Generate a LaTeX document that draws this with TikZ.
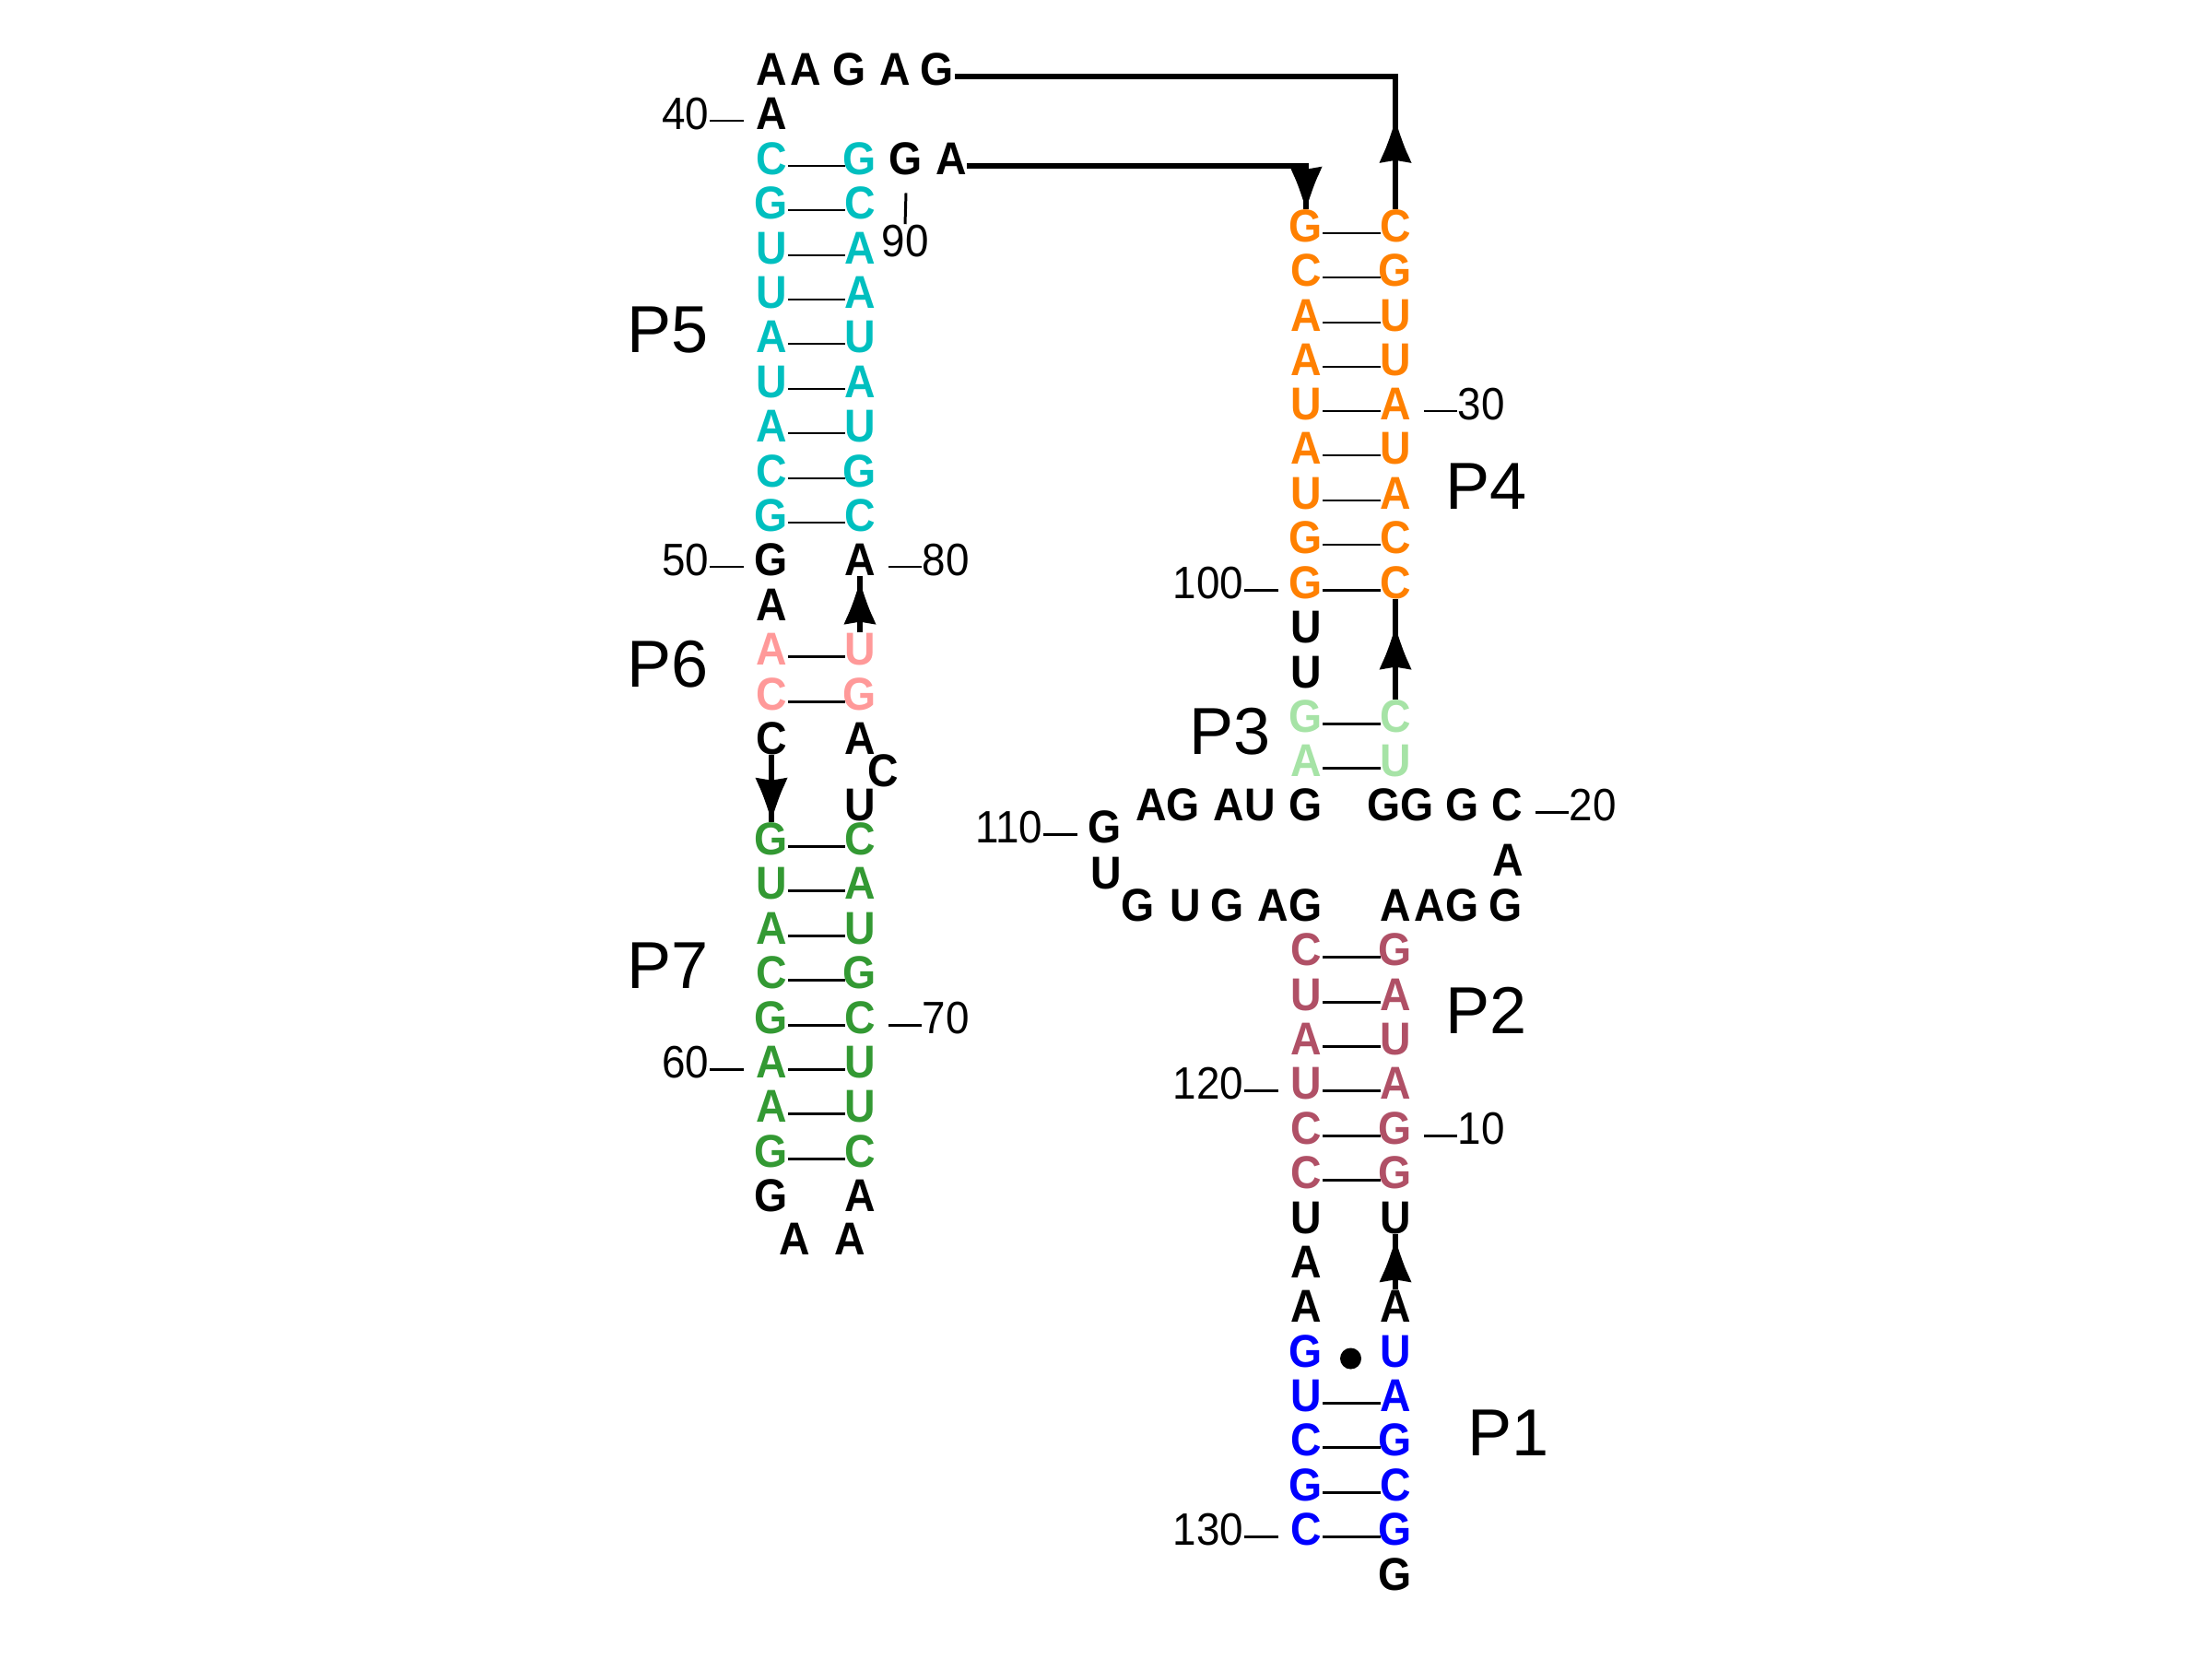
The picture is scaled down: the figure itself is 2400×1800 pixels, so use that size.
\documentclass[tikz,border=0pt]{standalone}
\usepackage{fontspec}
\setmainfont{Liberation Sans}[FakeStretch=0.93]
\newfontfamily\labfam{Liberation Sans}
\usetikzlibrary{calc}
\definecolor{cP5}{RGB}{0,191,191}
\definecolor{cP6}{RGB}{255,153,153}
\definecolor{cP7}{RGB}{51,153,51}
\definecolor{cP4}{RGB}{255,128,0}
\definecolor{cP3}{RGB}{166,227,166}
\definecolor{cP2}{RGB}{176,80,102}
\definecolor{cP1}{RGB}{0,0,255}
\newcommand\nucf{\fontsize{14.2}{16}\selectfont\bfseries}
\newcommand\numf{\fontsize{14}{16}\selectfont}
\newcommand\labf{\labfam\fontsize{20.5}{24}\selectfont}
% left stack pair
\newcommand\lp[5]{%
  \node[nt,text=#5] (a#1) at (837,#2) {#3};
  \node[nt,text=#5] (b#1) at (933,#2) {#4};
  \draw[bond] ($(a#1.mid)+(18,0)$) -- ($(b#1.mid)+(-16,0)$);}
% right stack pair
\newcommand\rp[5]{%
  \node[nt,text=#5] (c#1) at (1417,#2) {#3};
  \node[nt,text=#5] (d#1) at (1514,#2) {#4};
  \draw[bond] ($(c#1.mid)+(18,0)$) -- ($(d#1.mid)+(-16,0)$);}
% numbering to the left / right of a node
\newcommand\lnum[2]{%
  \node[numt,anchor=mid east] (n#2) at ($(#1.mid)+(-67,0)$) {#2};
  \draw[bond] (n#2.mid east) -- ($(#1.mid)+(-30,0)$);}
\newcommand\rnum[2]{%
  \node[numt,anchor=mid west] (n#2) at ($(#1.mid)+(67,0)$) {#2};
  \draw[bond] ($(#1.mid)+(31,0)$) -- (n#2.mid west);}
\tikzset{
  nt/.style={font=\nucf,inner sep=0pt,anchor=mid},
  numt/.style={font=\numf,inner sep=0pt},
  lab/.style={font=\labf,inner sep=0pt,anchor=mid west},
  bond/.style={line width=0.85pt},
  conn/.style={line width=1.7pt},
  ahd/.pic={\fill (24,0) .. controls (12,4) and (-4,9) .. (-14,14) -- (-22,17.5) -- (-19,0) -- (-22,-17.5) -- (-14,-14) .. controls (-4,-9) and (12,-4) .. (24,0) -- cycle;}
}
\begin{document}
\begin{tikzpicture}[x=0.01cm,y=-0.01cm]
\useasboundingbox (0,0) rectangle (2400,1800);
% ---------------- left stack (P5, P6, P7)
\node[nt] (t1) at (837,83) {A};
\node[nt] (t2) at (874,83) {A};
\node[nt] (t3) at (922,83) {G};
\node[nt] (t4) at (971,83) {A};
\node[nt] (t5) at (1017,83) {G};
\node[nt] (a1) at (837,131) {A};
\lnum{a1}{40}
\lp{2}{180}{C}{G}{cP5}
\node[nt] (x1) at (983,180) {G};
\node[nt] (x2) at (1032,180) {A};
\lp{3}{228}{G}{C}{cP5}
\node[numt,anchor=mid] (n90) at (982,269) {90};
\draw[bond] ($(x1.south)+(0,19)$) -- (n90.north);
\lp{4}{277}{U}{A}{cP5}
\lp{5}{325}{U}{A}{cP5}
\lp{6}{373}{A}{U}{cP5}
\lp{7}{422}{U}{A}{cP5}
\lp{8}{470}{A}{U}{cP5}
\lp{9}{519}{C}{G}{cP5}
\lp{10}{567}{G}{C}{cP5}
\node[nt] (a11) at (837,615) {G};
\node[nt] (b11) at (933,615) {A};
\lnum{a11}{50}
\rnum{b11}{80}
\node[nt] (a12) at (837,664) {A};
\lp{13}{712}{A}{U}{cP6}
\lp{14}{761}{C}{G}{cP6}
\node[nt] (a15) at (837,809) {C};
\node[nt] (b15) at (933,809) {A};
\node[nt] (y1) at (958,844) {C};
\node[nt] (y2) at (933,881) {U};
\lp{16}{918}{G}{C}{cP7}
\lp{17}{966}{U}{A}{cP7}
\lp{18}{1015}{A}{U}{cP7}
\lp{19}{1063}{C}{G}{cP7}
\lp{20}{1112}{G}{C}{cP7}
\lp{21}{1160}{A}{U}{cP7}
\lp{22}{1208}{A}{U}{cP7}
\lp{23}{1257}{G}{C}{cP7}
\rnum{b20}{70}
\lnum{a21}{60}
\node[nt] (a24) at (837,1305) {G};
\node[nt] (b24) at (933,1305) {A};
\node[nt] (z1) at (862,1352) {A};
\node[nt] (z2) at (922,1352) {A};
% ---------------- right stack (P4, P3, P2, P1)
\rp{0}{253}{G}{C}{cP4}
\rp{1}{301}{C}{G}{cP4}
\rp{2}{350}{A}{U}{cP4}
\rp{3}{398}{A}{U}{cP4}
\rp{4}{446}{U}{A}{cP4}
\rp{5}{494}{A}{U}{cP4}
\rp{6}{543}{U}{A}{cP4}
\rp{7}{591}{G}{C}{cP4}
\rp{8}{640}{G}{C}{cP4}
\rnum{d4}{30}
\lnum{c8}{100}
\node[nt] (c9) at (1417,688) {U};
\node[nt] (c10) at (1417,737) {U};
\rp{11}{785}{G}{C}{cP3}
\rp{12}{833}{A}{U}{cP3}
% junction
\node[nt] (j1) at (1249,881) {A};
\node[nt] (j2) at (1284,881) {G};
\node[nt] (j3) at (1333,881) {A};
\node[nt] (j4) at (1367,881) {U};
\node[nt] (c13) at (1417,881) {G};
\node[nt] (j5) at (1502,881) {G};
\node[nt] (j6) at (1538,881) {G};
\node[nt] (j7) at (1587,881) {G};
\node[nt] (j8) at (1635,881) {C};
\rnum{j8}{20}
\node[nt] (j9) at (1199,905) {G};
\lnum{j9}{110}
\node[nt] (j10) at (1200,955) {U};
\node[nt] (j11) at (1636,941) {A};
\node[nt] (k1) at (1235,990) {G};
\node[nt] (k2) at (1286,990) {U};
\node[nt] (k3) at (1332,990) {G};
\node[nt] (k4) at (1381,990) {A};
\node[nt] (c14) at (1417,990) {G};
\node[nt] (k5) at (1514,990) {A};
\node[nt] (k6) at (1551,990) {A};
\node[nt] (k7) at (1587,990) {G};
\node[nt] (k8) at (1634,990) {G};
\rp{15}{1038}{C}{G}{cP2}
\rp{16}{1087}{U}{A}{cP2}
\rp{17}{1135}{A}{U}{cP2}
\rp{18}{1183}{U}{A}{cP2}
\rp{19}{1232}{C}{G}{cP2}
\rp{20}{1280}{C}{G}{cP2}
\lnum{c18}{120}
\rnum{d19}{10}
\node[nt] (c21) at (1417,1329) {U};
\node[nt] (d21) at (1514,1329) {U};
\node[nt] (c22) at (1417,1377) {A};
\node[nt] (c23) at (1417,1425) {A};
\node[nt] (d23) at (1514,1425) {A};
\node[nt,text=cP1] (c24) at (1417,1474) {G};
\node[nt,text=cP1] (d24) at (1514,1474) {U};
\fill ($(c24.mid)!0.5!(d24.mid)$) circle[radius=0.115cm];
\rp{25}{1522}{U}{A}{cP1}
\rp{26}{1570}{C}{G}{cP1}
\rp{27}{1619}{G}{C}{cP1}
\rp{28}{1667}{C}{G}{cP1}
\lnum{c28}{130}
\node[nt] (d29) at (1514,1716) {G};
% ---------------- helix labels
\node[lab] (P5) at (680,373) {P5};
\node[lab] (P6) at (680,736) {P6};
\node[lab] (P7) at (680,1063) {P7};
\node[lab] (P4) at (1568,543) {P4};
\node[lab] (P3) at (1290,809) {P3};
\node[lab] (P2) at (1568,1112) {P2};
\node[lab] (P1) at (1592,1570) {P1};
% ---------------- connectors with arrowheads
\coordinate (q1) at (d0.north |- t5.mid);
\draw[conn] (d0.north) -- (q1) -- (t5.mid east);
\pic[rotate=90] at ($(d0.north)!0.5!(q1)$) {ahd};
\coordinate (q2) at (x2.mid -| c0.north);
\draw[conn] (x2.mid east) -- (q2) -- (c0.north);
\pic[rotate=-90] at ($(c0.north)+(0,-24)$) {ahd};
\draw[conn] (b13.north) -- (b11.south);
\pic[rotate=90] at ($(b13.north)!0.5!(b11.south)$) {ahd};
\draw[conn] (a15.south) -- (a16.north);
\pic[rotate=-90] at ($(a16.north)+(0,-26)$) {ahd};
\draw[conn] (d11.north) -- (d8.south);
\pic[rotate=90] at ($(d11.north)!0.5!(d8.south)$) {ahd};
\draw[conn] (d23.north) -- (d21.south);
\pic[rotate=90] at ($(d23.north)!0.5!(d21.south)$) {ahd};
\end{tikzpicture}
\end{document}
